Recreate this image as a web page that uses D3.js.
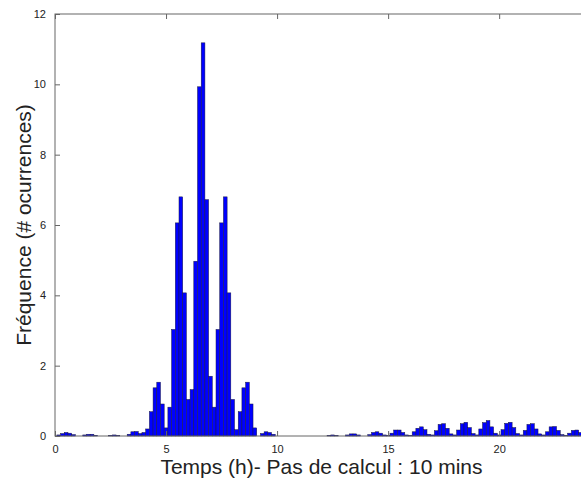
<!DOCTYPE html>
<html>
<head>
<meta charset="utf-8">
<script src="https://cdn.jsdelivr.net/npm/d3@7"></script>
<style>
  body { margin: 0; background: #fff; }
  text { font-family: "Liberation Sans", Arial, sans-serif; fill: #222; }
</style>
</head>
<body>
<div id="chart"></div>
<script>
'use strict';

// histogram: one value per 10 min bin, bin centre = i/6 hour
const freq = [
  0, 0.03, 0.07, 0.1, 0.08, 0.04, 0, 0, 0.03, 0.05, 0.05, 0.02,
  0, 0, 0, 0.02, 0.03, 0.02, 0, 0, 0.05, 0.12, 0.13, 0.07,
  0.1, 0.2, 0.69, 1.37, 1.53, 0.91, 0.23, 0.82, 3.03, 6.06, 6.8, 4.07,
  1.04, 1.32, 4.97, 9.93, 11.18, 6.72, 1.7, 0.82, 3.03, 6.06, 6.8, 4.07,
  1.04, 0.18, 0.69, 1.37, 1.53, 0.91, 0.23, 0, 0.07, 0.12, 0.1, 0.05,
  0, 0, 0, 0, 0, 0, 0, 0, 0, 0, 0, 0,
  0, 0, 0.02, 0.03, 0.02, 0, 0, 0.03, 0.06, 0.06, 0.03, 0,
  0, 0.04, 0.1, 0.12, 0.08, 0.03, 0.02, 0.08, 0.17, 0.17, 0.1, 0.03,
  0.02, 0.12, 0.22, 0.26, 0.18, 0.05, 0.03, 0.15, 0.33, 0.35, 0.22, 0.06,
  0.03, 0.17, 0.35, 0.39, 0.24, 0.07, 0.03, 0.2, 0.38, 0.44, 0.26, 0.08,
  0.03, 0.18, 0.36, 0.39, 0.24, 0.07, 0.03, 0.16, 0.33, 0.35, 0.2, 0.06,
  0.03, 0.12, 0.26, 0.27, 0.16, 0.04, 0.02, 0.08, 0.16, 0.17, 0.1, 0.03
];
const binWidth = 1 / 6;
const xTicks = [0, 5, 10, 15, 20];
const yTicks = [0, 2, 4, 6, 8, 10, 12];
const xLabel = 'Temps (h)- Pas de calcul : 10 mins';
const yLabel = 'Fréquence (# ocurrences)';

const width = 581, height = 479;
const margin = {left: 55, top: 14, right: -7, bottom: 43};

const svg = d3.select('#chart').append('svg')
  .attr('width', width)
  .attr('height', height);

const x = d3.scaleLinear()
  .domain([0, 24])
  .range([margin.left, width - margin.right]);
const y = d3.scaleLinear()
  .domain([0, 12])
  .range([height - margin.bottom, margin.top]);

const bins = freq.map((v, i) => ({c: i * binWidth, v: v}));

// bars
svg.append('g').selectAll('rect')
  .data(bins.filter(d => d.v > 0))
  .join('rect')
  .attr('x', d => x(d.c - binWidth / 2))
  .attr('width', d => x(d.c + binWidth / 2) - x(d.c - binWidth / 2))
  .attr('y', d => y(d.v))
  .attr('height', d => y(0) - y(d.v))
  .attr('fill', '#0000ff')
  .attr('stroke', '#1a1a40')
  .attr('stroke-width', 0.5);

// axes (ticks inside, like matlab)
const x0 = x.range()[0], x1 = x.range()[1];
const y0 = y.range()[0], y1 = y.range()[1];

const axBottom = svg.append('g')
  .attr('transform', `translate(0,${y0})`)
  .call(d3.axisBottom(x).tickValues(xTicks).tickSize(-5).tickPadding(9).tickFormat(d3.format('d')));
const axTop = svg.append('g')
  .attr('transform', `translate(0,${y1})`)
  .call(d3.axisTop(x).tickValues(xTicks).tickSize(-5).tickFormat(''));
const axLeft = svg.append('g')
  .attr('transform', `translate(${x0},0)`)
  .call(d3.axisLeft(y).tickValues(yTicks).tickSize(-5).tickPadding(9).tickFormat(d3.format('d')));
const axRight = svg.append('g')
  .attr('transform', `translate(${x1},0)`)
  .call(d3.axisRight(y).tickValues(yTicks).tickSize(-5).tickFormat(''));

[axBottom, axTop, axLeft, axRight].forEach(g => {
  g.select('.domain').remove();
  g.selectAll('.tick line').attr('stroke', '#666');
  g.selectAll('text').style('font-size', '11px').attr('fill', '#222');
});

svg.append('rect')
  .attr('x', x0).attr('y', y1)
  .attr('width', x1 - x0).attr('height', y0 - y1)
  .attr('fill', 'none')
  .attr('stroke', '#666')
  .attr('stroke-width', 1);

// labels
svg.append('text')
  .attr('x', (x0 + x1) / 2)
  .attr('y', 474)
  .attr('text-anchor', 'middle')
  .style('font-size', '21px')
  .text(xLabel);

svg.append('text')
  .attr('transform', `translate(31,${(y0 + y1) / 2}) rotate(-90)`)
  .attr('text-anchor', 'middle')
  .style('font-size', '21px')
  .text(yLabel);
</script>
</body>
</html>
